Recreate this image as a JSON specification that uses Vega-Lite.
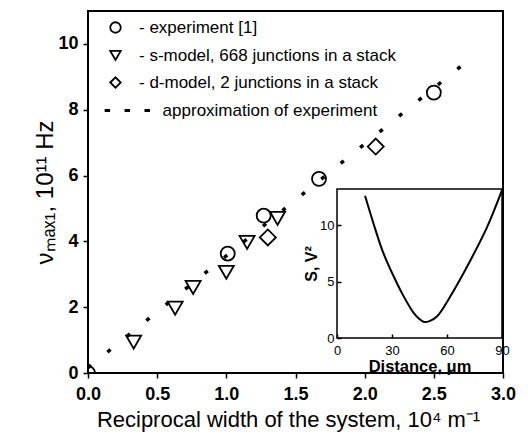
{
  "$schema": "https://vega.github.io/schema/vega-lite/v6.json",
  "width": 415,
  "height": 362,
  "autosize": {"type": "none"},
  "padding": {"left": 88, "top": 11, "right": 25, "bottom": 75},
  "background": "white",
  "config": {
    "view": {"stroke": "black", "strokeWidth": 2},
    "font": "Liberation Sans",
    "axis": {
      "grid": false,
      "domain": false,
      "tickColor": "black",
      "tickWidth": 1.5,
      "labelColor": "black",
      "titleColor": "black",
      "labelFont": "Liberation Sans",
      "titleFont": "Liberation Sans",
      "labelFlush": false,
      "labelOverlap": false
    }
  },
  "datasets": {
    "points": [
      {"series": "- experiment [1]", "x": 0.0, "y": 0.0},
      {"series": "- experiment [1]", "x": 1.01, "y": 3.63},
      {"series": "- experiment [1]", "x": 1.27, "y": 4.78},
      {"series": "- experiment [1]", "x": 1.67, "y": 5.9},
      {"series": "- experiment [1]", "x": 2.5, "y": 8.52},
      {"series": "- s-model, 668 junctions in a stack", "x": 0.33, "y": 0.94},
      {"series": "- s-model, 668 junctions in a stack", "x": 0.63, "y": 1.97},
      {"series": "- s-model, 668 junctions in a stack", "x": 0.76, "y": 2.6},
      {"series": "- s-model, 668 junctions in a stack", "x": 1.0, "y": 3.06},
      {"series": "- s-model, 668 junctions in a stack", "x": 1.15, "y": 3.97},
      {"series": "- s-model, 668 junctions in a stack", "x": 1.37, "y": 4.7},
      {"series": "- d-model, 2 junctions in a stack", "x": 1.3, "y": 4.12},
      {"series": "- d-model, 2 junctions in a stack", "x": 2.08, "y": 6.88}
    ],
    "approx": [
      {"x": 0.0, "y": 0.16},
      {"x": 2.78, "y": 9.61}
    ],
    "inset": [
      {"d": 15.3, "s": 12.6},
      {"d": 19.6, "s": 10.3},
      {"d": 25.1, "s": 7.6},
      {"d": 30.5, "s": 5.6},
      {"d": 36.0, "s": 3.8},
      {"d": 41.5, "s": 2.3},
      {"d": 44.5, "s": 1.75},
      {"d": 47.5, "s": 1.42},
      {"d": 50.5, "s": 1.5},
      {"d": 54.5, "s": 1.9},
      {"d": 63.3, "s": 4.1},
      {"d": 72.5, "s": 6.8},
      {"d": 81.8, "s": 9.8},
      {"d": 90.0, "s": 13.1}
    ]
  },
  "layer": [
    {
      "layer": [
        {
          "data": {"name": "approx"},
          "mark": {"type": "line", "color": "black", "strokeWidth": 3.5, "strokeDash": [4, 21], "strokeCap": "butt"},
          "encoding": {
            "x": {
              "field": "x", "type": "quantitative",
              "scale": {"domain": [0, 3], "nice": false, "zero": false},
              "axis": {
                "values": [0, 0.25, 0.5, 0.75, 1, 1.25, 1.5, 1.75, 2, 2.25, 2.5, 2.75, 3],
                "labelExpr": "(datum.value * 2) % 1 == 0 ? format(datum.value, '.1f') : ''",
                "labelFontSize": 18, "labelFontWeight": "bold", "labelPadding": 7, "tickSize": 5,
                "title": "Reciprocal width of the system, 10⁴ m⁻¹",
                "titleFontSize": 22, "titleFontWeight": "normal", "titlePadding": 6, "titleX": 200
              }
            },
            "y": {
              "field": "y", "type": "quantitative",
              "scale": {"domain": [0, 11], "nice": false, "zero": false},
              "axis": {
                "values": [0, 1, 2, 3, 4, 5, 6, 7, 8, 9, 10],
                "labelExpr": "datum.value % 2 == 0 ? datum.label : ''",
                "labelFontSize": 18, "labelFontWeight": "bold", "labelPadding": 5, "tickSize": 5,
                "title": "νₘₐₓ₁, 10¹¹ Hz",
                "titleFontSize": 24, "titleFontWeight": "normal", "titlePadding": 0
              }
            }
          }
        },
        {
          "data": {"name": "points"},
          "mark": {"type": "point", "filled": false, "color": "black", "strokeWidth": 1.8, "opacity": 1, "clip": true},
          "encoding": {
            "x": {"field": "x", "type": "quantitative"},
            "y": {"field": "y", "type": "quantitative"},
            "shape": {
              "field": "series", "type": "nominal",
              "scale": {
                "domain": ["- experiment [1]", "- s-model, 668 junctions in a stack", "- d-model, 2 junctions in a stack", "\u200b\u00a0\u00a0\u00a0\u00a0\u00a0approximation of experiment"],
                "range": ["circle", "triangle-down", "diamond", "M-1.9,-0.12H-1.2V0.12H-1.9Z M1.9,-0.12H2.6V0.12H1.9Z M5.7,-0.12H6.4V0.12H5.7Z"]
              },
              "legend": {
                "title": null, "orient": "none", "legendX": 19, "legendY": 8, "padding": 0,
                "labelFont": "Liberation Sans", "labelFontSize": 17, "labelColor": "black", "labelLimit": 0,
                "labelOffset": 15, "rowPadding": 9, "symbolSize": 110,
                "symbolStrokeColor": "black", "symbolStrokeWidth": 1.8, "symbolFillColor": "transparent"
              }
            },
            "size": {
              "field": "series", "type": "ordinal",
              "scale": {
                "domain": ["- experiment [1]", "- s-model, 668 junctions in a stack", "- d-model, 2 junctions in a stack"],
                "range": [196, 256, 380]
              },
              "legend": null
            }
          }
        }
      ]
    },
    {
      "layer": [
        {
          "data": {"values": [{}]},
          "mark": {"type": "rect", "fill": "white", "stroke": "black", "strokeWidth": 1.5},
          "encoding": {
            "x": {
              "datum": 0, "type": "quantitative",
              "scale": {"domain": [0, 90], "range": [249, 414], "nice": false, "zero": false},
              "axis": {
                "orient": "bottom", "offset": -35, "values": [0, 30, 60, 90], "tickSize": -4, "zindex": 1,
                "labelFontSize": 13, "labelFontWeight": "normal", "labelPadding": 10,
                "title": "Distance, μm", "titleFontSize": 16.5, "titleFontWeight": "bold", "titlePadding": 1
              }
            },
            "x2": {"datum": 90},
            "y": {
              "datum": 0, "type": "quantitative",
              "scale": {"domain": [0, 13.2], "range": [327, 178], "nice": false, "zero": false},
              "axis": {
                "orient": "left", "offset": -249, "values": [0, 5, 10], "tickSize": -4, "zindex": 1,
                "labelFontSize": 13, "labelFontWeight": "normal", "labelPadding": 7,
                "title": "S, V²", "titleFontSize": 16, "titleFontWeight": "bold", "titlePadding": 0
              }
            },
            "y2": {"datum": 13.2}
          }
        },
        {
          "data": {"name": "inset"},
          "mark": {"type": "line", "color": "black", "strokeWidth": 2, "interpolate": "catmull-rom"},
          "encoding": {
            "x": {"field": "d", "type": "quantitative"},
            "y": {"field": "s", "type": "quantitative"}
          }
        }
      ]
    }
  ],
  "resolve": {"scale": {"x": "independent", "y": "independent"}}
}
